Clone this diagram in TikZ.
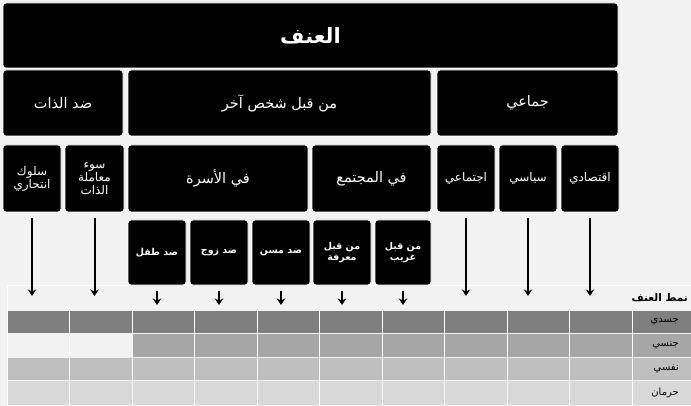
\documentclass[tikz,border=0pt]{standalone}
\usepackage{fontspec}
\newfontfamily\arabicfont[Script=Arabic]{DejaVu Sans}
\TeXXeTstate=1
\usetikzlibrary{arrows.meta}
\newcommand{\artxt}[1]{\beginR #1\endR}
\definecolor{panelc}{HTML}{F2F2F2}
\definecolor{rowa}{HTML}{7F7F7F}
\definecolor{rowb}{HTML}{A6A6A6}
\definecolor{rowc}{HTML}{BFBFBF}
\definecolor{rowd}{HTML}{D9D9D9}
\begin{document}
\begin{tikzpicture}[x=1pt,y=-1pt,
  blk/.style={fill=black, draw=white, line width=0.8pt, rounded corners=3pt,
    text=white, inner sep=0pt, outer sep=0pt, align=center, font=\arabicfont},
  fa/.style={font=\arabicfont\fontsize{21}{24}\selectfont\bfseries},
  fb/.style={font=\arabicfont\fontsize{14.5}{16}\selectfont},
  fc/.style={font=\arabicfont\fontsize{12}{13}\selectfont},
  fd/.style={font=\arabicfont\fontsize{9.5}{11.5}\selectfont\bfseries},
  arr/.style={line width=2pt, -{Stealth[length=6.5pt,width=8.5pt]}},
  lbl/.style={font=\arabicfont\fontsize{10}{11}\selectfont, anchor=east, inner sep=0pt}]
\useasboundingbox (0,0) rectangle (691,406);
\fill[panelc] (0,0) rectangle (691,406);
% table
\draw[white,line width=1pt] (7,406) -- (7,285.5) -- (691,285.5);
\fill[rowa] (7,311) rectangle (691,333);
\fill[rowb] (132,334) rectangle (691,357);
\fill[rowc] (7,358) rectangle (691,380);
\fill[rowd] (7,381) rectangle (691,405);
\foreach \xx in {7,69.5,132,194.5,257,319.5,382,444.5,507,569.5,632}
  \draw[white,line width=1pt] (\xx,311) -- (\xx,405);
% level 1
\node[blk,fa,minimum width=615pt,minimum height=65pt] (viol) at (310.5,35.5) {\artxt{العنف}};
% level 2
\node[blk,fb,minimum width=120pt,minimum height=66pt] (self) at (63,103) {\artxt{ضد الذات}};
\node[blk,fb,minimum width=303pt,minimum height=66pt] (other) at (279.5,103) {\artxt{من قبل شخص آخر}};
\node[blk,fb,minimum width=181pt,minimum height=66pt] (coll) at (527.5,103) {\artxt{جماعي}};
% level 3
\node[blk,fc,minimum width=58pt,minimum height=67pt] (suic) at (32,178.5) {\artxt{سلوك}\\\artxt{انتحاري}};
\node[blk,fc,minimum width=59pt,minimum height=67pt] (abuse) at (94.5,178.5) {\artxt{سوء}\\\artxt{معاملة}\\\artxt{الذات}};
\node[blk,fb,minimum width=180pt,minimum height=67pt] (fam) at (218,178.5) {\artxt{في الأسرة}};
\node[blk,fb,minimum width=119pt,minimum height=67pt] (comm) at (371.5,178.5) {\artxt{في المجتمع}};
\node[blk,fc,minimum width=58pt,minimum height=67pt] (soc) at (466,178.5) {\artxt{اجتماعي}};
\node[blk,fc,minimum width=58pt,minimum height=67pt] (pol) at (528,178.5) {\artxt{سياسي}};
\node[blk,fc,minimum width=58pt,minimum height=67pt] (eco) at (590,178.5) {\artxt{اقتصادي}};
% level 4
\node[blk,fd,minimum width=58pt,minimum height=65pt] (child) at (157,252.5) {\artxt{ضد طفل}};
\node[blk,fd,minimum width=58pt,minimum height=65pt] (partner) at (219,252.5) {\artxt{ضد زوج}};
\node[blk,fd,minimum width=58pt,minimum height=65pt] (elder) at (281,252.5) {\artxt{ضد مسن}};
\node[blk,fd,minimum width=58pt,minimum height=65pt] (acq) at (342,252.5) {\artxt{من قبل}\\\artxt{معرفة}};
\node[blk,fd,minimum width=56pt,minimum height=65pt] (strg) at (403,252.5) {\artxt{من قبل}\\\artxt{غريب}};
% targets
\coordinate (hdrA) at (0,296);
\coordinate (hdrB) at (0,305);
\foreach \n in {suic,abuse,soc,pol,eco}
  \draw[arr] ([yshift=-6pt]\n.south) -- (\n.south |- hdrA);
\foreach \n in {child,partner,elder,acq,strg}
  \draw[arr] ([yshift=-6pt]\n.south) -- (\n.south |- hdrB);
% table labels
\node[lbl,font=\arabicfont\fontsize{10.5}{12}\selectfont\bfseries] (tp) at (688,298) {\artxt{نمط العنف}};
\node[lbl] (phy) at (679,322) {\artxt{جسدي}};
\node[lbl] (sex) at (679,345.5) {\artxt{جنسي}};
\node[lbl] (psy) at (679,369) {\artxt{نفسي}};
\node[lbl] (dep) at (679,393) {\artxt{حرمان}};
\end{tikzpicture}
\end{document}
